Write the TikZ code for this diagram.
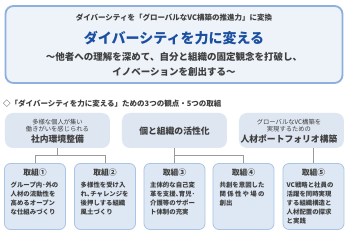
\documentclass[tikz,border=0pt]{standalone}
\usepackage{fontspec}
\setmainfont{Noto Sans CJK JP}
\definecolor{txt}{HTML}{3F3F3F}
\definecolor{ttl}{HTML}{1B4F9F}
\definecolor{topfill}{HTML}{EEF3FA}
\definecolor{topline}{HTML}{8DB0DC}
\definecolor{catfill}{HTML}{DEE6F1}
\definecolor{boxfill}{HTML}{DEE8F4}
\definecolor{boxline}{HTML}{A9C4E4}
\definecolor{conn}{HTML}{9A9A9A}
\tikzset{
  topbox/.style={draw=topline, line width=1.8pt, fill=topfill, rounded corners=8pt, minimum width=337pt, minimum height=77pt, inner sep=0pt},
  catbox/.style={fill=catfill, rounded corners=8pt, minimum width=105pt, minimum height=35pt, inner sep=0pt},
  stepbox/.style={draw=boxline, line width=0.8pt, fill=boxfill, rounded corners=6pt, minimum width=61pt, minimum height=66pt, inner sep=0pt},
  plain/.style={inner sep=0pt, text=txt},
  smalltxt/.style={plain, font=\fontsize{6.3}{7}\selectfont},
  cattitle/.style={plain, font=\fontsize{8.8}{10}\selectfont\bfseries},
  steptitle/.style={plain, font=\fontsize{7.8}{9}\selectfont\bfseries},
  stepbody/.style={plain, anchor=north west, align=left, font=\fontsize{6.4}{9}\selectfont\bfseries},
  conn/.style={draw=conn, line width=0.9pt}
}
\begin{document}
\begin{tikzpicture}[x=1pt,y=-1pt]
\useasboundingbox (0,0) rectangle (360,241);
\fill[white] (0,0) rectangle (360,241);

% top box
\node[topbox] (top) at (174,44.5) {};
\node[plain, font=\fontsize{7.5}{8}\selectfont\bfseries] (l1) at (174,18) {ダイバーシティを「グローバルなVC構築の推進力」に変換};
\node[plain, text=ttl, font=\fontsize{14}{15}\selectfont\bfseries] (l2) at (174,38) {ダイバーシティを力に変える};
\node[plain, font=\fontsize{9.5}{10}\selectfont\bfseries] (l3) at (174,57) {～他者への理解を深めて、自分と組織の固定観念を打破し、};
\node[plain, font=\fontsize{9.5}{10}\selectfont\bfseries] (l4) at (174,71.5) {イノベーションを創出する～};

% heading
\node[plain, anchor=west, font=\fontsize{7.5}{8}\selectfont\bfseries] (head) at (3,104) {◇「ダイバーシティを力に変える」ための3つの観点・5つの取組};

% category boxes
\node[catbox] (c1) at (57.5,130.5) {};
\node[catbox] (c2) at (174.5,130.5) {};
\node[catbox] (c3) at (291.5,130.5) {};

\node[smalltxt] (c1a) at (57.5,122) {多様な個人が集い};
\node[smalltxt] (c1b) at (57.5,129) {働きがいを感じられる};
\node[cattitle] (c1c) at (57.5,139.5) {社内環境整備};

\node[cattitle] (c2a) at (174.5,131.5) {個と組織の活性化};

\node[smalltxt] (c3a) at (289,122) {グローバルなVC構築を};
\node[smalltxt] (c3b) at (289,129) {実現するための};
\node[cattitle] (c3c) at (289,139.5) {人材ポートフォリオ構築};

% step boxes
\node[stepbox] (b1) at (35,196.5) {};
\node[stepbox] (b2) at (105,196.5) {};
\node[stepbox] (b3) at (174.5,196.5) {};
\node[stepbox] (b4) at (243.5,196.5) {};
\node[stepbox] (b5) at (313.5,196.5) {};

% connectors
\coordinate (j1) at (57.5,155.5);
\coordinate (j2) at (174.5,155.5);
\draw[conn] (c1.south) -- (j1);
\draw[conn] (b1.north) |- (j1) -| (b2.north);
\draw[conn] (c2.south) -- (j2) -- (b3.north);
\draw[conn] (j2) -| (b4.north);
\draw[conn] (c3.south -| b5.north) -- (b5.north);

% step texts
\node[steptitle] (t1) at (35,173) {取組①};
\node[steptitle] (t2) at (105,173) {取組②};
\node[steptitle] (t3) at (174.5,173) {取組③};
\node[steptitle] (t4) at (243.5,173) {取組④};
\node[steptitle] (t5) at (313.5,173) {取組⑤};

\node[stepbody] (d1) at (10.5,181.5) {グループ内･外の\\人材の流動性を\\高めるオープン\\な仕組みづくり};
\node[stepbody] (d2) at (80.5,181.5) {多様性を受け入\\れ､チャレンジを\\後押しする組織\\風土づくり};
\node[stepbody] (d3) at (150,181.5) {主体的な自己変\\革を支援､育児･\\介護等のサポー\\ト体制の充実};
\node[stepbody] (d4) at (219.5,181.5) {共創を意図した\\\makebox[44.8pt][s]{関\hfil 係\hfil 性\hfil や\hfil 場\hfil の}\\創出};
\node[stepbody] (d5) at (286.5,181.5) {VC戦略と社員の\\活躍を同時実現\\する組織構造と\\人材配置の探求\\と実践};
\end{tikzpicture}
\end{document}
